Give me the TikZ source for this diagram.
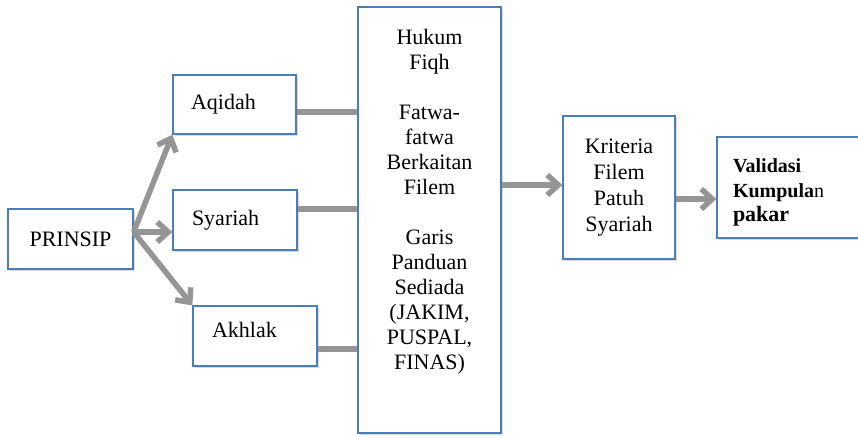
\documentclass[tikz,border=0pt]{standalone}
\usepackage{fontspec}
\setmainfont{Liberation Serif}
\usetikzlibrary{arrows.meta,shadows,calc}
\definecolor{boxblue}{HTML}{4A7EBB}
\definecolor{linegray}{HTML}{959595}
\begin{document}
\begin{tikzpicture}[x=1pt,y=-1pt,
  box/.style={draw=boxblue, line width=1.3pt, fill=white, inner sep=0pt,
    drop shadow={shadow xshift=1.5pt, shadow yshift=-2pt, opacity=0.3},
    font=\fontsize{22}{25}\selectfont},
  conn/.style={draw=linegray, line width=5.5pt},
  arr/.style={conn, -{Straight Barb[length=11pt,width=20pt]}}]
\useasboundingbox (0,0) rectangle (858,437);

\node[box, minimum width=125pt, minimum height=60pt] (pr) at (70.5,239) {PRINSIP};
\node[box, minimum width=123pt, minimum height=59pt, text width=87pt, align=left] (aq) at (234.5,104.5) {Aqidah};
\node[box, minimum width=124pt, minimum height=60pt, text width=86pt, align=left] (sy) at (235,220) {Syariah};
\node[box, minimum width=124pt, minimum height=60pt, text width=86pt, align=left, text depth=12pt] (ak) at (255,336) {Akhlak};

\node[box, minimum width=143pt, minimum height=426pt] (big) at (429.5,220) {};
\node[anchor=north, align=center, inner sep=0pt, font=\fontsize{22}{25}\selectfont] (bigtxt) at (big.north |- 0,29)
  {Hukum\\Fiqh\\[25pt]Fatwa-\\fatwa\\Berkaitan\\Filem\\[25pt]Garis\\Panduan\\Sediada\\(JAKIM,\\PUSPAL,\\FINAS)};

\node[box, minimum width=112pt, minimum height=143pt, align=center, font=\fontsize{22}{26}\selectfont] (kr) at (619,187.5)
  {Kriteria\\Filem\\Patuh\\Syariah};

\node[box, minimum width=143pt, minimum height=101pt, text width=111pt, align=left, font=\fontsize{20}{24.5}\selectfont\bfseries] (va) at (788.5,187.5)
  {\rule{0pt}{24pt}Validasi\\Kumpula{\mdseries n}\\{\fontsize{22}{24.5}\selectfont pakar}};

\coordinate (s) at ([yshift=7pt]pr.east);
\draw[arr] (s) -- (aq.south west);
\draw[arr] (s) -- (s -| sy.west);
\draw[arr] (s) -- (ak.north west);

\coordinate (a1) at ([yshift=-7.5pt]aq.east);
\draw[conn] (a1) -- (a1 -| big.west);
\coordinate (a2) at ([yshift=11pt]sy.east);
\draw[conn] (a2) -- (a2 -| big.west);
\coordinate (a3) at ([yshift=-13pt]ak.east);
\draw[conn] (a3) -- (a3 -| big.west);

\coordinate (k1) at ([yshift=2.5pt]kr.west);
\draw[arr] (k1 -| big.east) -- (k1);
\coordinate (v1) at ([yshift=-11.5pt]va.west);
\draw[arr] (v1 -| kr.east) -- (v1);
\end{tikzpicture}
\end{document}
